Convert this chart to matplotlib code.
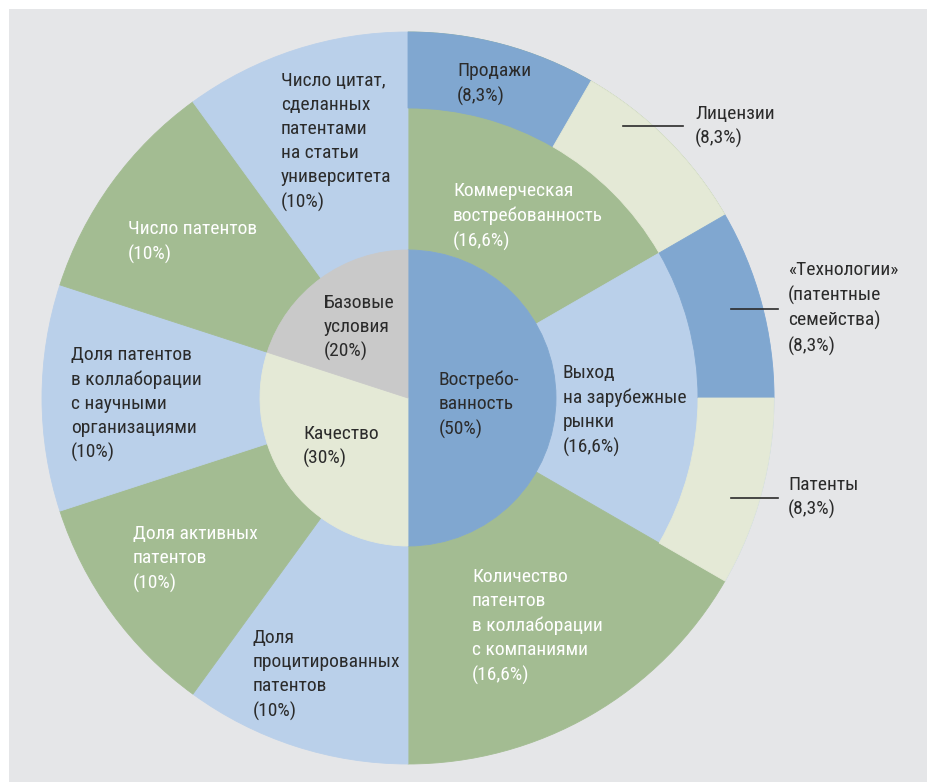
import matplotlib
matplotlib.use("Agg")
import matplotlib.pyplot as plt
from matplotlib import font_manager
from matplotlib.patches import Rectangle

# pick a narrow font if one is installed
names = {f.name for f in font_manager.fontManager.ttflist}
stretch = {(f.name, f.stretch) for f in font_manager.fontManager.ttflist}
font = 'DejaVu Sans'
fstretch = 'normal'
for cand in ['Roboto Condensed', 'Liberation Sans Narrow', 'Open Sans Condensed', 'Noto Sans Condensed']:
    if cand in names:
        font = cand
        break
else:
    for n, s in stretch:
        if n in ('Roboto', 'Noto Sans', 'Open Sans', 'DejaVu Sans') and s in ('condensed', 'semi-condensed', 'extra-condensed'):
            font, fstretch = n, s
            break
plt.rcParams['font.family'] = [font, 'DejaVu Sans']
plt.rcParams['font.stretch'] = fstretch

W, H = 927, 782

# inner ring (clockwise from 12 o'clock)
inner_names = ["Востребо-\nванность", "Качество", "Базовые\nусловия"]
inner_vals = [50, 30, 20]

# middle ring, with index of parent in the inner ring
mid_names = ["Коммерческая\nвостребованность", "Выход\nна зарубежные\nрынки",
             "Количество\nпатентов\nв коллаборации\nс компаниями",
             "Доля\nпроцитированных\nпатентов", "Доля активных\nпатентов",
             "Доля патентов\nв коллаборации\nс научными\nорганизациями",
             "Число патентов", "Число цитат,\nсделанных\nпатентами\nна статьи\nуниверситета"]
mid_vals = [16.6, 16.6, 16.6, 10, 10, 10, 10, 10]
mid_parent = [0, 0, 0, 1, 1, 1, 2, 2]

# outer ring (children of the first two middle segments)
outer_names = ["Продажи", "Лицензии", "«Технологии»\n(патентные\nсемейства)", "Патенты"]
outer_vals = [8.3, 8.3, 8.3, 8.3]
outer_parent = [0, 0, 1, 1]

blue = '#80a7d0'
lblue = '#bad0ea'
green = '#a3bc92'
cream = '#e4e9d6'
grey = '#c9c9c9'
bg = '#e5e6e8'
dark = '#2b2b2b'

inner_colors = [blue, cream, grey]
mid_colors = [green, lblue, green, lblue, green, lblue, green, lblue]
outer_colors = [blue, cream, blue, cream]

def pct(v):
    return "(" + f"{v:g}".replace('.', ',') + "%)"

def fit(vals, parents, parent_sizes):
    # children share their parent's angle
    tot = {}
    for v, p in zip(vals, parents):
        tot[p] = tot.get(p, 0) + v
    return [v * parent_sizes[p] / tot[p] for v, p in zip(vals, parents)]

mid_sizes = fit(mid_vals, mid_parent, inner_vals)
outer_sizes = fit(outer_vals, outer_parent, mid_sizes)

fig = plt.figure(figsize=(W / 100, H / 100), dpi=100)
ax = fig.add_axes([0, 0, 1, 1])
ax.add_patch(Rectangle((9, 0), W - 9, H - 9, facecolor=bg, edgecolor='none', zorder=0))

cx, cy = 408, H - 398
r_in, r_mid, r_out = 148, 290, 366

def ring(vals, colors, radius, width=None):
    wp = dict(linewidth=0.6)
    if width is not None:
        wp['width'] = width
    wedges, _ = ax.pie(vals, colors=colors, radius=radius, center=(cx, cy),
                       startangle=90, counterclock=False, wedgeprops=wp, frame=True)
    for w in wedges:
        w.set_edgecolor(w.get_facecolor())
    return wedges

ring(mid_sizes, mid_colors, r_out, r_out - r_in)
hidden = sum(inner_vals) - sum(outer_sizes)
ring(outer_sizes + [hidden], outer_colors + ['none'], r_out, r_out - r_mid)
ring(inner_vals, inner_colors, r_in)

ax.set_aspect('auto')
ax.set_xlim(0, W)
ax.set_ylim(0, H)
ax.axis('off')

fs = 14 if font != 'DejaVu Sans' or fstretch != 'normal' else 12.5

def label(x, y, txt, color=dark):
    ax.text(x, H - y, txt, ha='left', va='center', multialignment='left',
            fontsize=fs, color=color, linespacing=1.43, zorder=5)

# inner labels
label(439, 404.5, inner_names[0] + "\n" + pct(inner_vals[0]))
label(303, 446.5, inner_names[1] + "\n" + pct(inner_vals[1]))
label(324, 327.5, inner_names[2] + "\n" + pct(inner_vals[2]))

# middle labels
mid_pos = [(453, 216.5, 'white'), (563, 410.5, dark), (472, 626.5, 'white'),
           (253, 675, dark), (133, 559, 'white'), (71, 404, dark),
           (128, 242, 'white'), (281, 142, dark)]
for (x, y, c), n, v in zip(mid_pos, mid_names, mid_vals):
    label(x, y, n + "\n" + pct(v), c)

# outer labels
outer_pos = [(457, 84), (695, 126.5), (788, 308.5), (788, 497.5)]
for (x, y), n, v in zip(outer_pos, outer_names, outer_vals):
    label(x, y, n + "\n" + pct(v))

# leader lines
for x0, x1, y in [(623, 683, 126), (731, 778, 309), (731, 778, 498)]:
    ax.plot([x0, x1], [H - y, H - y], color=dark, lw=1.2, zorder=5)

fig.savefig("out.png", dpi=100)
